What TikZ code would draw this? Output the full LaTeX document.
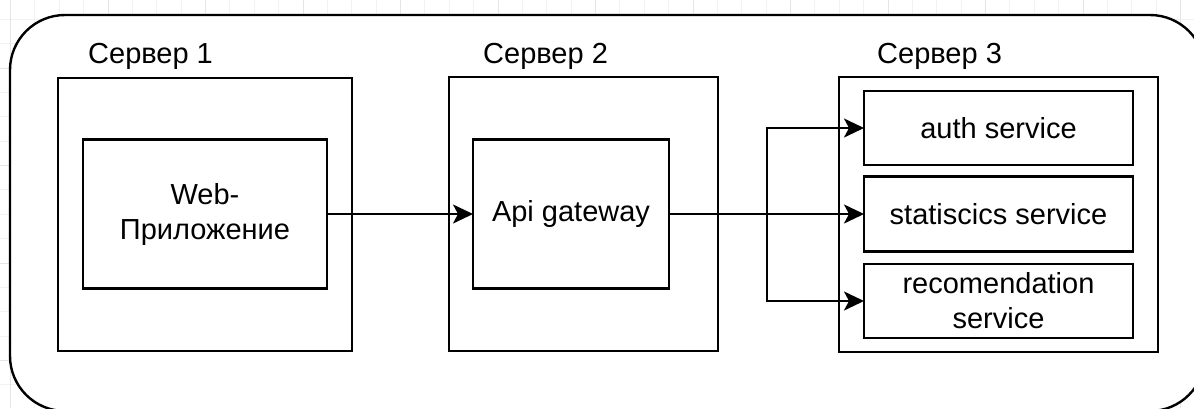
\documentclass[tikz,border=0pt]{standalone}
\usepackage{fontspec}
\setmainfont{Liberation Sans}
\usetikzlibrary{arrows.meta}
\begin{document}
\begin{tikzpicture}[x=1pt,y=-1pt,
  every node/.style={font=\fontsize{29}{35}\selectfont},
  frame/.style={draw=black, line width=2.4pt, fill=white, outer sep=0pt, inner sep=0pt},
  svc/.style={frame, minimum width=269pt, align=center},
  lbl/.style={anchor=base west, inner sep=0pt},
  arr/.style={line width=2.2pt, -{Stealth[length=20pt,width=19pt,inset=5pt]}},
  minorgrid/.style={draw=black!5, line width=0.8pt},
  majorgrid/.style={draw=black!10, line width=0.8pt}]
\useasboundingbox (0,0) rectangle (1194,408);
\clip (0,0) rectangle (1194,408);
% background grid
\foreach \i in {-1,...,49} {\draw[minorgrid] (10.5+24.375*\i,0) -- (10.5+24.375*\i,408);}
\foreach \i in {-3,...,14} {\draw[minorgrid] (0,68+24.375*\i) -- (1194,68+24.375*\i);}
\foreach \i in {0,...,12} {\draw[majorgrid] (10.5+97.5*\i,0) -- (10.5+97.5*\i,408);}
\foreach \i in {-1,...,3} {\draw[majorgrid] (0,68+97.5*\i) -- (1194,68+97.5*\i);}
% outer rounded frame
\draw[line width=2.4pt, fill=white, rounded corners=55pt] (10,15) rectangle (1205,411);
% servers
\node[frame, minimum width=294pt, minimum height=273pt] (s1) at (205,214.5) {};
\node[frame, minimum width=269pt, minimum height=274pt] (s2) at (583.5,214) {};
\node[frame, minimum width=319pt, minimum height=275pt] (s3) at (998.5,214.5) {};
\node[lbl] (l1) at (88,63) {Сервер 1};
\node[lbl] (l2) at (483,63) {Сервер 2};
\node[lbl] (l3) at (877,63) {Сервер 3};
% inner components
\node[frame, minimum width=244pt, minimum height=149pt, align=center] (web) at (205,214) {Web-\\Приложение};
\node[frame, minimum width=196pt, minimum height=149pt] (api) at (571,214) {Api gateway};
\node[svc, minimum height=74pt] (auth) at (998.5,128) {auth service};
\node[svc, minimum height=75pt] (stats) at (998.5,214) {statiscics service};
\node[svc, minimum height=74pt] (rec) at (998.5,301) {recomendation\\service};
% connectors
\coordinate (j) at (767,214);
\draw[arr] (web.east) -- (api.west);
\draw[arr] (api.east) -- (stats.west);
\draw[arr] (j) |- (auth.west);
\draw[arr] (j) |- (rec.west);
\end{tikzpicture}
\end{document}
